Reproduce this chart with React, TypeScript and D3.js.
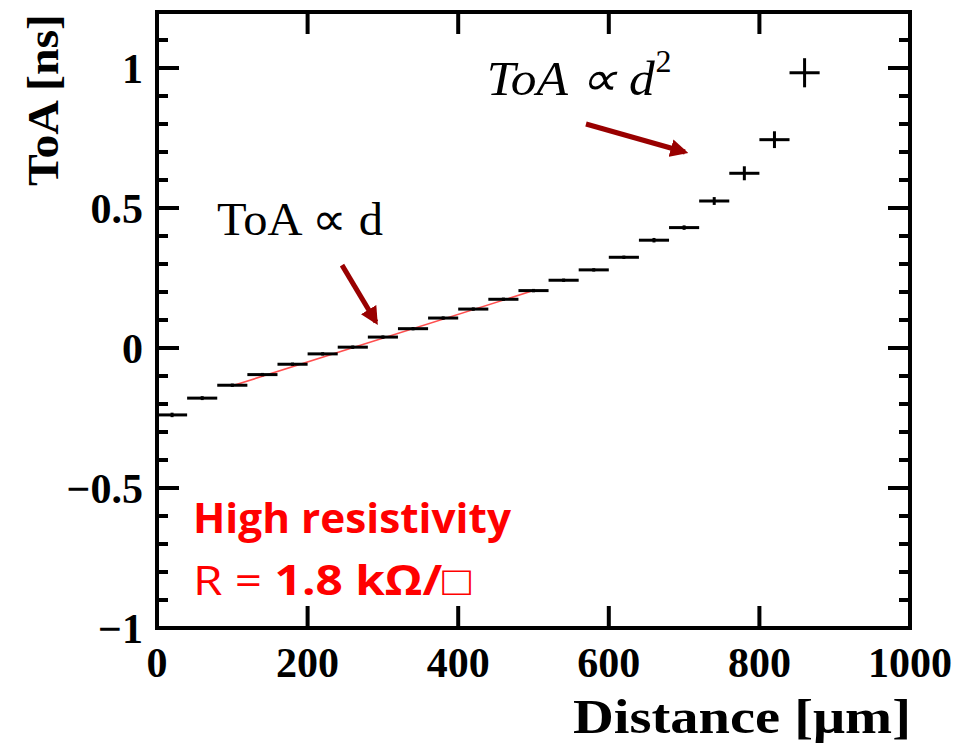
import React from "react";
import * as d3 from "d3";

const distance = [20, 60, 100, 140, 180, 220, 260, 300, 340, 380, 420, 460, 500, 540, 580, 620, 660, 700, 740, 780, 820, 860];
const toa = [-0.239, -0.179, -0.133, -0.095, -0.058, -0.021, 0.003, 0.039, 0.069, 0.107, 0.139, 0.174, 0.205, 0.242, 0.279, 0.324, 0.385, 0.43, 0.525, 0.624, 0.744, 0.983];
const toaErr = [0.008, 0.007, 0.006, 0.006, 0.006, 0.006, 0.006, 0.006, 0.006, 0.006, 0.006, 0.006, 0.006, 0.006, 0.006, 0.006, 0.008, 0.008, 0.014, 0.025, 0.03, 0.052];
const binHalfWidth = 20;
const fitRange = [100, 500];
const fitIntercept = -0.22;
const fitSlope = 0.00085;
const xTicks = [0, 200, 400, 600, 800, 1000];
const xTickLabels = ["0", "200", "400", "600", "800", "1000"];
const yTicks = [-1, -0.5, 0, 0.5, 1];
const yTickLabels = ["\u22121", "\u22120.5", "0", "0.5", "1"];
const yMinor = [-0.9, -0.8, -0.7, -0.6, -0.4, -0.3, -0.2, -0.1, 0.1, 0.2, 0.3, 0.4, 0.6, 0.7, 0.8, 0.9, 1.1];

export default function App() {
  const x = d3.scaleLinear().domain([0, 1000]).range([157, 910]);
  const y = d3.scaleLinear().domain([-1, 1.2]).range([628, 12]);
  const [x0, x1] = x.range();
  const [y0, y1] = y.range();
  const majorLen = 22;
  const minorLen = 11;
  const serif = "'Liberation Serif', 'Times New Roman', serif";
  const fitLine = d3.line<number>().x((d) => x(d)).y((d) => y(fitIntercept + fitSlope * d));
  const arrowColor = "#990000";

  return (
    <div style={{ position: "fixed", left: 0, top: 0, width: 959, height: 743, background: "#fff" }}>
      <svg width={959} height={743} style={{ display: "block" }}>
        <defs>
          <marker id="ah" viewBox="0 0 10 10" refX="8" refY="5" markerWidth="3.6" markerHeight="3.6" orient="auto" markerUnits="strokeWidth">
            <path d="M0,0 L10,5 L0,10 z" fill={arrowColor} />
          </marker>
        </defs>
        {/* ticks */}
        <g stroke="#000" strokeWidth={4}>
          {xTicks.slice(1, -1).map((t) => (
            <g key={"xt" + t}>
              <line x1={x(t)} x2={x(t)} y1={y0} y2={y0 - majorLen} />
              <line x1={x(t)} x2={x(t)} y1={y1} y2={y1 + majorLen} />
            </g>
          ))}
          {yTicks.slice(1).map((t) => (
            <g key={"yt" + t}>
              <line x1={x0} x2={x0 + majorLen} y1={y(t)} y2={y(t)} />
              <line x1={x1} x2={x1 - majorLen} y1={y(t)} y2={y(t)} />
            </g>
          ))}
          {yMinor.map((t) => (
            <g key={"ym" + t}>
              <line x1={x0} x2={x0 + minorLen} y1={y(t)} y2={y(t)} />
              <line x1={x1} x2={x1 - minorLen} y1={y(t)} y2={y(t)} />
            </g>
          ))}
        </g>
        {/* frame */}
        <rect x={x0} y={y1} width={x1 - x0} height={y0 - y1} fill="none" stroke="#000" strokeWidth={4} />
        {/* tick labels */}
        <g fontFamily={serif} fontWeight="bold" fontSize={42} fill="#000">
          {xTicks.map((t, i) => (
            <text key={"xl" + t} x={x(t)} y={y0 + 49} textAnchor="middle">{xTickLabels[i]}</text>
          ))}
          {yTicks.map((t, i) => (
            <text key={"yl" + t} x={143} y={y(t) + 5} textAnchor="end" dominantBaseline="middle">{yTickLabels[i]}</text>
          ))}
        </g>
        {/* axis titles */}
        <text x={911} y={733} textAnchor="end" fontFamily={serif} fontWeight="bold" fontSize={48} textLength={338} lengthAdjust="spacingAndGlyphs">Distance [{"\u03bc"}m]</text>
        <text transform="translate(58,14) rotate(-90)" textAnchor="end" fontFamily={serif} fontWeight="bold" fontSize={44} textLength={172} lengthAdjust="spacingAndGlyphs">ToA [ns]</text>
        {/* fit */}
        <path d={fitLine(fitRange) || ""} stroke="#ff3030" strokeWidth={1.6} fill="none" opacity={0.85} />
        {/* data */}
        <g stroke="#000" strokeWidth={3}>
          {distance.map((d, i) => (
            <g key={"p" + i}>
              <line x1={x(d - binHalfWidth)} x2={x(d + binHalfWidth)} y1={y(toa[i])} y2={y(toa[i])} />
              <line x1={x(d)} x2={x(d)} y1={y(toa[i] - toaErr[i])} y2={y(toa[i] + toaErr[i])} />
            </g>
          ))}
        </g>
        {/* arrows */}
        <line x1={x(245.7)} y1={y(0.296)} x2={x(290.8)} y2={y(0.093)} stroke={arrowColor} strokeWidth={5} markerEnd="url(#ah)" />
        <line x1={x(569.7)} y1={y(0.8)} x2={x(701)} y2={y(0.7)} stroke={arrowColor} strokeWidth={5} markerEnd="url(#ah)" />
        {/* annotations */}
        <text x={x(79.7)} y={y(0.404)} fontFamily={serif} fontSize={46} textLength={166} lengthAdjust="spacingAndGlyphs" fill="#000">ToA {"\u221d"} d</text>
        <text x={x(438)} y={y(0.904)} fontFamily={serif} fontStyle="italic" fontSize={48} textLength={168} lengthAdjust="spacingAndGlyphs" fill="#000">ToA {"\u221d"} d</text>
        <text x={x(662)} y={y(0.985)} fontFamily={serif} fontSize={32} fill="#000">2</text>
        <text x={x(47.8)} y={y(-0.66)} fontFamily="'Open Sans', sans-serif" fontWeight="bold" fontSize={41} fill="#ff0000" textLength={318} lengthAdjust="spacingAndGlyphs">High resistivity</text>
        <text x={x(47.8)} y={y(-0.882)} fontFamily="'Open Sans', sans-serif" fontSize={41} fill="#ff0000" textLength={278} lengthAdjust="spacingAndGlyphs">
          R = <tspan fontWeight="bold">1.8 k{"\u03a9"}/</tspan>{"\u25a1"}
        </text>
      </svg>
    </div>
  );
}
